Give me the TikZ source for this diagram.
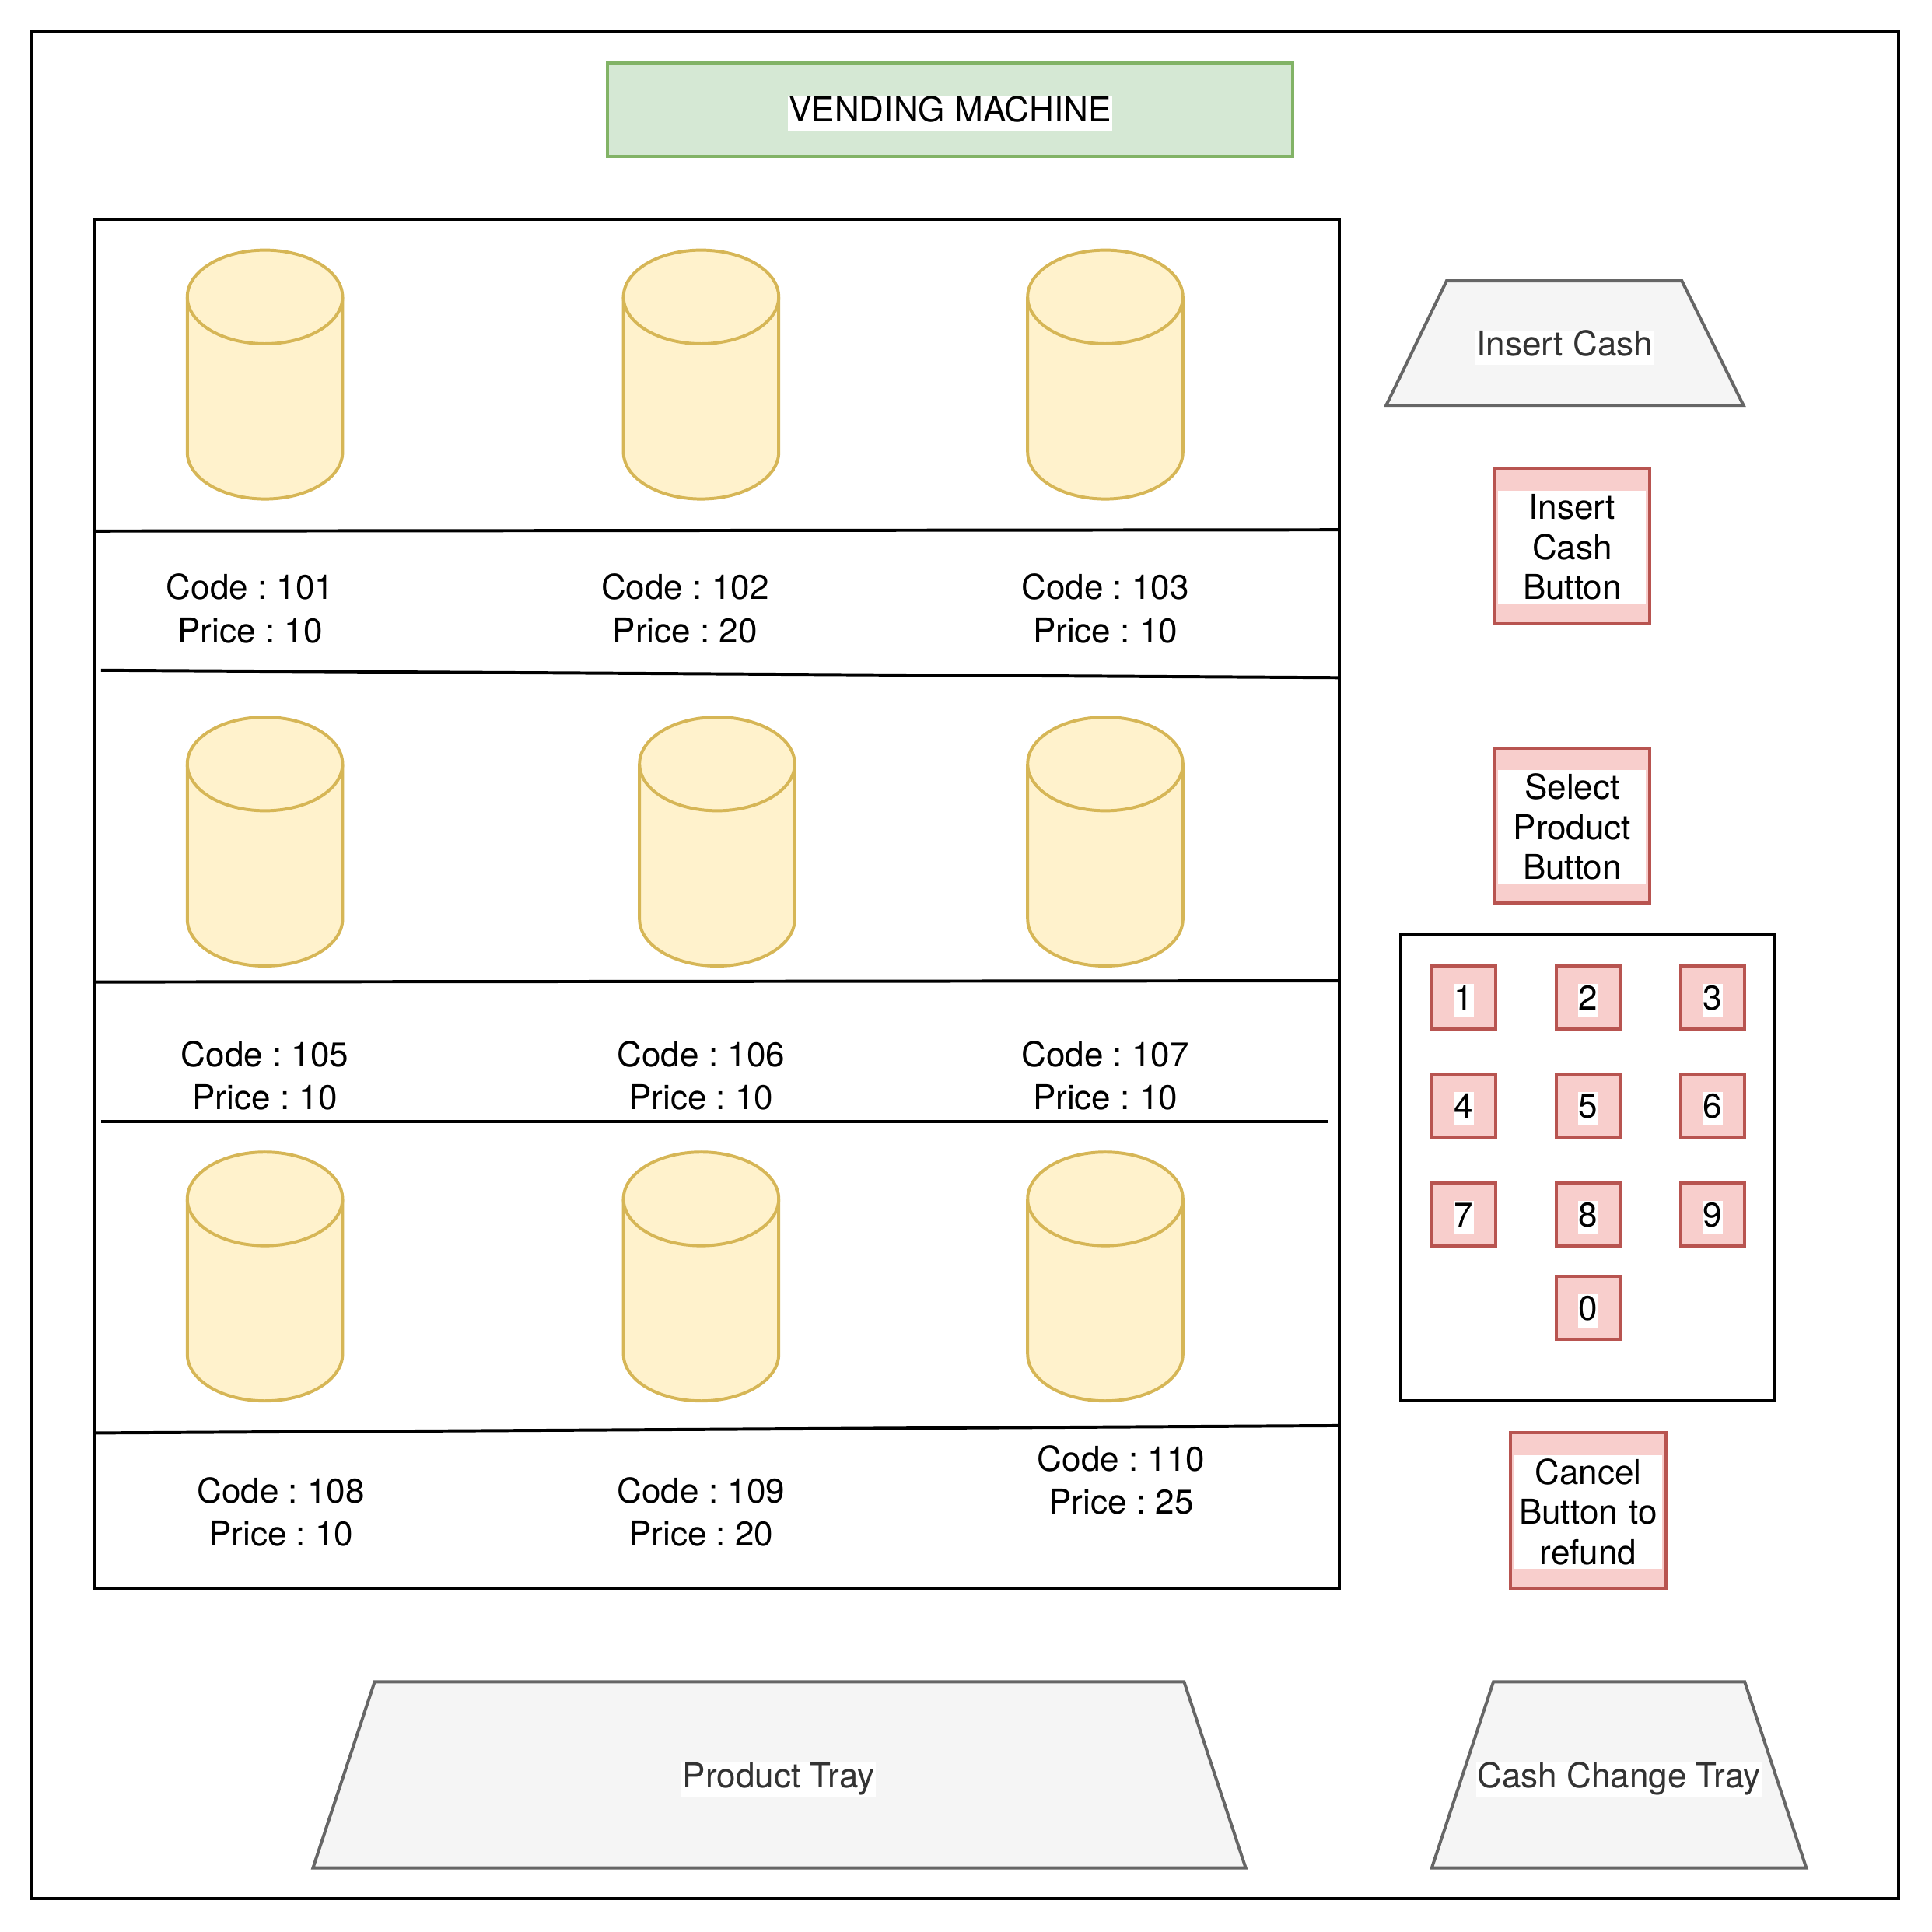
\documentclass[tikz,border=0pt]{standalone}
\usepackage{fontspec}
\setmainfont{TeX Gyre Heros}
\frenchspacing
\definecolor{greenfill}{HTML}{D5E8D4}
\definecolor{greenline}{HTML}{82B366}
\definecolor{canfill}{HTML}{FFF2CC}
\definecolor{canline}{HTML}{D6B656}
\definecolor{pinkfill}{HTML}{F8CECC}
\definecolor{pinkline}{HTML}{B85450}
\definecolor{grayfill}{HTML}{F5F5F5}
\definecolor{grayline}{HTML}{666666}
\definecolor{graytext}{HTML}{333333}
\tikzset{
  lw/.style={line width=2.5pt},
  blackline/.style={lw, draw=black},
  can/.pic={
    \path[lw, fill=canfill, draw=canline] (-63pt,-38pt) -- (-63pt,-164pt)
      arc[start angle=180,end angle=360,x radius=63pt,y radius=38pt]
      -- (63pt,-38pt)
      arc[start angle=0,end angle=180,x radius=63pt,y radius=38pt] -- cycle;
    \draw[lw, draw=canline] (-63pt,-38pt)
      arc[start angle=180,end angle=360,x radius=63pt,y radius=38pt];
  },
  txt/.style={font=\fontsize{27.8}{35}\selectfont, align=center, inner sep=0pt},
  bgtxt/.style={txt, fill=white, inner sep=1pt, text height=20pt, text depth=6pt},
  tray/.style={lw, fill=grayfill, draw=grayline},
  button/.style={lw, fill=pinkfill, draw=pinkline, minimum width=126pt, minimum height=126pt, inner sep=0pt},
  buttontext/.style={font=\fontsize{27.8}{32.5}\selectfont, align=center, fill=white,
     text width=120pt, inner xsep=0pt, inner ysep=3pt},
  key/.style={lw, fill=pinkfill, draw=pinkline, minimum width=52pt, minimum height=51pt, inner sep=0pt},
  keytext/.style={font=\fontsize{27.8}{33}\selectfont, fill=white, inner xsep=0.5pt, inner ysep=0pt, text height=21pt, text depth=6pt},
}
\begin{document}
\begin{tikzpicture}[x=1pt,y=-1pt]
\useasboundingbox (0,0) rectangle (1568,1568);
% outer frame
\node[blackline, minimum width=1515pt, minimum height=1515pt, inner sep=0pt] (frame) at (783.5,783.5) {};
% title
\node[lw, fill=greenfill, draw=greenline, minimum width=556pt, minimum height=76pt, inner sep=0pt] (title) at (771,89) {};
\node[bgtxt] (titletext) at ([yshift=-3pt]title.center) {VENDING MACHINE};
% product area
\node[blackline, minimum width=1010pt, minimum height=1111pt, inner sep=0pt] (shelf) at (582,733.5) {};
\coordinate (l1a) at (77,431); \coordinate (l1b) at (1087,430);
\coordinate (l2a) at (82,544); \coordinate (l2b) at (1088,550);
\coordinate (l3a) at (77,797); \coordinate (l3b) at (1087,796);
\coordinate (l4a) at (82,910); \coordinate (l4b) at (1078,910);
\coordinate (l5a) at (77,1163); \coordinate (l5b) at (1087,1157);
\draw[blackline] (l1a) -- (l1b);
\draw[blackline] (l2a) -- (l2b);
\draw[blackline] (l3a) -- (l3b);
\draw[blackline] (l4a) -- (l4b);
\draw[blackline] (l5a) -- (l5b);
% cans
\pic at (215,203) {can};
\pic at (569,203) {can};
\pic at (897,203) {can};
\pic at (215,582) {can};
\pic at (582,582) {can};
\pic at (897,582) {can};
\pic at (215,935) {can};
\pic at (569,935) {can};
\pic at (897,935) {can};
% labels
\node[txt] (c101) at (203,494) {Code : 101\\Price : 10};
\node[txt] (c102) at (556,494) {Code : 102\\Price : 20};
\node[txt] (c103) at (897,494) {Code : 103\\Price : 10};
\node[txt] (c105) at (215,873) {Code : 105\\Price : 10};
\node[txt] (c106) at (569,873) {Code : 106\\Price : 10};
\node[txt] (c107) at (897,873) {Code : 107\\Price : 10};
\node[txt] (c108) at (228,1227) {Code : 108\\Price : 10};
\node[txt] (c109) at (569,1227) {Code : 109\\Price : 20};
\node[txt] (c110) at (910,1201) {Code : 110\\Price : 25};
% insert cash slot
\coordinate (ic1) at (1174,228); \coordinate (ic2) at (1365,228);
\coordinate (ic3) at (1415,329); \coordinate (ic4) at (1125,329);
\draw[tray] (ic1) -- (ic2) -- (ic3) -- (ic4) -- cycle;
\node[bgtxt, text=graytext] (insertcash) at (1270,282) {Insert Cash};
% buttons
\node[button] (insbtn) at (1276,443) {};
\node[buttontext] (insbtntext) at ([yshift=-1pt]insbtn.center) {Insert\\Cash\\Button};
\node[button] (selbtn) at (1276,670) {};
\node[buttontext] (selbtntext) at ([yshift=-1pt]selbtn.center) {Select\\Product\\Button};
\node[button] (canbtn) at (1289,1226) {};
\node[buttontext] (canbtntext) at ([yshift=-1pt]canbtn.center) {Cancel\\Button to\\refund};
% keypad
\node[blackline, minimum width=303pt, minimum height=378pt, inner sep=0pt] (keypad) at (1288.5,948) {};
\foreach \d/\x/\y in {1/1188/809.5, 2/1289/809.5, 3/1390/809.5,
                      4/1188/897.5, 5/1289/897.5, 6/1390/897.5,
                      7/1188/985.5, 8/1289/985.5, 9/1390/985.5,
                      0/1289/1061.5}{
  \node[key] (key\d) at (\x,\y) {};
  \node[keytext] (keytext\d) at ([yshift=-2.5pt]key\d.center) {\d};
}
% trays
\coordinate (pt1) at (304,1365); \coordinate (pt2) at (961,1365);
\coordinate (pt3) at (1011,1516); \coordinate (pt4) at (254,1516);
\draw[tray] (pt1) -- (pt2) -- (pt3) -- (pt4) -- cycle;
\node[bgtxt, text=graytext] (producttray) at (632,1444) {Product Tray};
\coordinate (ct1) at (1212,1365); \coordinate (ct2) at (1416,1365);
\coordinate (ct3) at (1466,1516); \coordinate (ct4) at (1162,1516);
\draw[tray] (ct1) -- (ct2) -- (ct3) -- (ct4) -- cycle;
\node[bgtxt, text=graytext] (cashtray) at (1314,1444) {Cash Change Tray};
\end{tikzpicture}
\end{document}
